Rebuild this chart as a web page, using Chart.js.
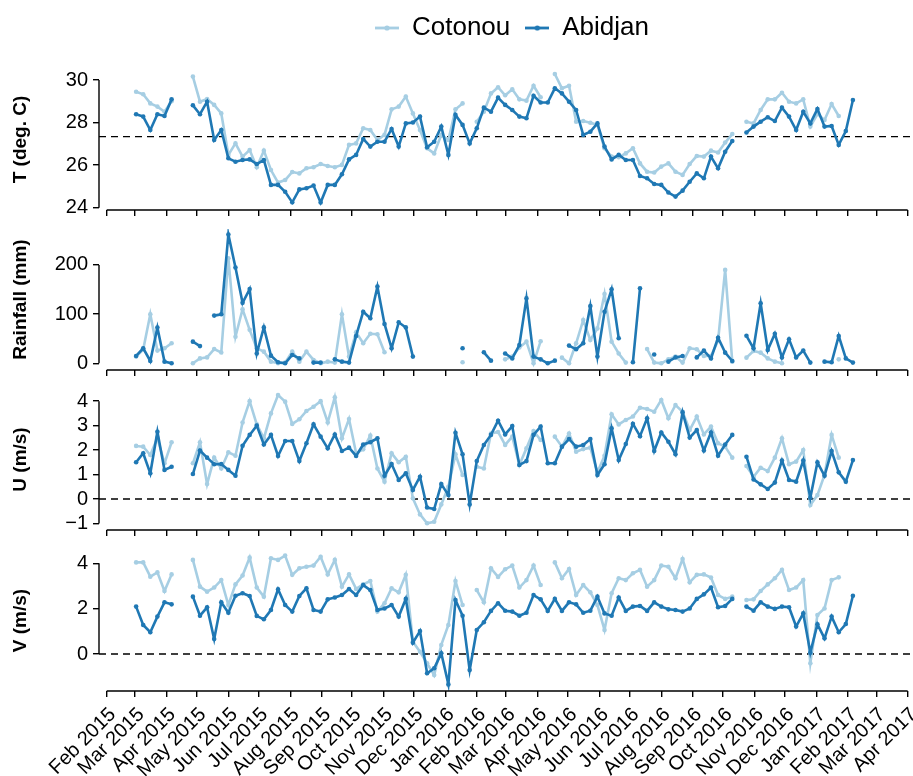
<!DOCTYPE html>
<html>
<head>
<meta charset="utf-8">
<script src="https://cdn.jsdelivr.net/npm/chart.js@4.4.1/dist/chart.umd.min.js"></script>
<style>
html, body { margin: 0; padding: 0; background: #fff; overflow: hidden; width: 913px; height: 776px; }
canvas { position: absolute; left: 0; }
</style>
</head>
<body>
<canvas id="legend" width="826" height="56" style="left:99px;top:0"></canvas>
<canvas id="p0" width="940" height="185" style="top:47px"></canvas>
<canvas id="p1" width="940" height="185" style="top:207px"></canvas>
<canvas id="p2" width="940" height="185" style="top:367px"></canvas>
<canvas id="p3" width="940" height="248" style="top:528px"></canvas>
<script>
// weekly series, first week starts 2015-03-02, 102 weeks
const firstWeek = '2015-03-02'
const nWeeks = 102

const tickLabels = ['Feb 2015','Mar 2015','Apr 2015','May 2015','Jun 2015','Jul 2015','Aug 2015','Sep 2015','Oct 2015','Nov 2015','Dec 2015',
  'Jan 2016','Feb 2016','Mar 2016','Apr 2016','May 2016','Jun 2016','Jul 2016','Aug 2016','Sep 2016','Oct 2016','Nov 2016','Dec 2016',
  'Jan 2017','Feb 2017','Mar 2017','Apr 2017']

const seriesNames = ['Cotonou', 'Abidjan']
const panelTitles = ['T (deg. C)', 'Rainfall (mm)', 'U (m/s)', 'V (m/s)']
const yTicks = [[24, 26, 28, 30], [0, 100, 200], [-1, 0, 1, 2, 3, 4], [0, 2, 4]]
const refLevels = [27.34, null, 0, 0]   // dashed lines

const tAbidjan = [28.39,28.28,27.65,28.39,28.31,29.09,null,null,28.81,28.39,28.98,27.18,27.65,26.32,26.16,26.24,26.27,26.05,26.24,25.07,
  25.07,24.75,24.25,24.86,24.91,25.04,24.24,25.07,25.07,25.57,26.27,26.48,27.23,26.87,27.10,27.10,27.70,26.87,27.96,28.00,
  28.28,26.84,27.10,27.81,26.48,28.36,27.89,27.02,27.73,28.70,28.51,29.17,28.83,28.59,28.28,28.20,29.26,28.94,28.94,29.61,
  29.37,28.98,28.59,27.42,27.57,27.96,26.87,26.27,26.48,26.24,26.24,25.49,25.38,25.11,25.07,24.71,24.52,24.80,25.22,25.61,
  25.38,26.40,25.85,26.63,27.13,null,27.53,27.81,28.04,28.25,28.07,28.70,28.28,27.65,28.51,27.96,28.64,27.81,27.84,26.95,
  27.60,29.06]
const tCotonou = [29.45,29.33,28.90,28.75,28.51,29.00,null,null,30.16,28.98,29.11,28.83,28.43,26.48,27.02,26.40,26.71,25.90,26.68,25.77,
  25.18,25.30,25.68,25.61,25.85,25.90,26.05,25.96,25.90,26.01,26.95,27.02,27.73,27.65,27.18,27.42,28.62,28.75,29.22,28.43,
  27.65,26.79,26.55,27.42,27.18,28.62,28.90,null,28.04,28.51,29.37,29.66,29.28,29.56,29.09,29.03,29.73,29.19,null,30.28,
  29.61,29.73,28.04,28.07,27.99,27.89,26.79,26.40,26.37,26.55,26.79,26.08,25.69,25.65,25.93,26.08,25.69,25.54,26.05,26.43,
  26.40,26.68,26.59,27.06,27.46,null,28.04,27.96,28.59,29.09,29.09,29.40,28.98,28.90,29.09,27.81,28.40,28.12,28.87,28.31,
  null,null]

const rainAbidjan = [15,30.5,4.7,72.6,3.4,0,null,null,44,35,null,97,99.7,262,195,123,151,20,73,15.6,
  2,0,17,10,null,1.4,1.4,null,8,3.4,1.4,55.6,105,91.6,156,80,30.5,83.4,73,13.6,
  null,null,null,null,null,null,30.5,null,null,22.4,5.4,null,20,10,37,132,13.6,8,0,5.4,
  null,36,28.5,40.7,116.7,13.6,105,150.6,51,null,2,152.6,null,18,null,3.4,12,15,null,12,
  25.8,10,52,21.7,4.7,null,56,30.5,122,27,60,12,49,12,25.8,1.4,null,3.4,2,55.6,
  10,1.4]
const rainCotonou = [13.6,28,99.7,25.8,30.5,40.7,null,null,0,10,12,29,22,213.6,54,110,68,30.5,23.7,3.4,
  0,1.4,23.7,3.4,23.7,6.8,0,3.4,1.4,99.7,13.6,63,40.7,60,59,22.4,null,null,null,null,
  null,null,null,null,null,null,2,null,null,null,null,null,8,13.6,32,44,0,45,null,null,
  11.5,0,40.7,88,47.5,71,141,44,20,1.4,null,null,29,1.4,0,8,13.6,1.4,30.5,28.5,
  15,15,46,190,3.4,null,11.5,25,21.7,10,3.4,0,null,null,null,null,null,null,null,8,
  null,null]

const uAbidjan = [1.50,1.87,1.05,2.75,1.19,1.32,null,null,1.02,1.98,1.69,1.42,1.43,1.19,0.95,2.18,2.62,3.00,2.23,2.62,
  1.76,2.37,2.37,1.55,2.28,3.05,2.55,2.07,2.64,1.96,2.10,1.76,2.23,2.32,2.48,0.95,1.43,0.78,1.05,0.37,
  0.91,-0.35,-0.41,0.61,0.16,2.71,1.83,-0.22,1.55,2.21,2.62,3.20,2.64,2.98,1.39,1.55,2.62,2.96,1.46,1.46,
  2.14,2.45,2.14,2.21,2.45,0.98,1.42,2.89,1.59,2.25,3.07,2.57,3.30,1.96,2.72,2.34,1.83,3.54,2.51,2.82,
  1.98,2.72,1.77,2.23,2.62,null,1.73,0.80,0.60,0.41,0.67,1.57,0.78,0.71,1.57,0.05,1.50,0.95,1.96,1.09,
  0.71,1.59]
const uCotonou = [2.17,2.14,1.80,2.50,1.46,2.32,null,null,1.46,2.32,0.61,1.69,1.25,1.91,1.77,3.13,4.00,3.05,2.48,3.50,
  4.25,3.98,3.07,3.26,3.60,3.77,4.00,3.13,4.16,2.48,3.27,1.87,2.03,2.59,1.25,0.71,1.87,1.50,1.73,0.03,
  -0.63,-0.99,-0.93,-0.22,0.50,1.83,0.98,null,1.32,1.25,2.68,2.74,2.21,2.55,1.39,2.07,2.78,2.41,null,2.55,
  2.14,2.68,1.93,2.04,2.10,1.09,1.77,3.46,3.05,3.23,3.37,3.73,3.68,3.57,4.05,3.30,3.84,3.57,2.82,3.37,
  2.64,2.96,2.28,2.14,1.69,null,1.35,0.91,1.28,1.14,1.69,2.48,1.42,1.53,2.00,-0.25,0.16,0.98,2.62,1.69,
  null,null]

const vAbidjan = [2.09,1.28,0.96,1.65,2.28,2.19,null,null,2.53,1.69,2.06,0.66,2.28,1.82,2.57,2.68,2.56,1.68,1.53,1.94,
  2.85,2.16,1.87,2.56,2.90,1.94,1.87,2.41,2.49,2.60,2.87,2.60,3.04,2.82,1.94,2.01,2.16,1.65,2.43,0.50,
  1.01,-0.85,-0.63,0.03,-1.34,2.38,1.69,-0.71,1.06,1.40,1.90,2.24,1.91,1.87,1.69,1.82,2.60,2.41,1.90,2.43,
  1.90,2.28,2.19,1.82,1.91,2.53,1.79,1.69,2.49,1.90,2.09,2.12,1.90,2.28,2.09,1.97,1.94,1.87,2.01,2.43,
  2.63,2.93,2.06,2.12,2.43,null,2.09,1.91,2.28,2.09,1.99,2.09,2.06,1.21,1.79,0.06,1.31,0.69,1.65,0.96,
  1.32,2.57]
const vCotonou = [4.04,4.04,3.41,3.60,2.78,3.51,null,null,4.15,2.97,2.75,2.93,3.26,2.16,3.07,3.46,4.25,2.93,2.53,4.22,
  4.15,4.34,3.49,3.78,3.85,3.90,4.29,3.51,4.15,2.97,3.51,2.87,3.07,3.22,1.87,2.24,2.90,2.72,3.49,0.54,
  0.10,-0.41,-0.93,0.40,1.28,3.22,2.16,null,2.82,2.28,3.78,3.40,3.74,3.90,2.93,3.26,3.90,3.04,null,4.04,
  3.34,3.75,2.60,3.04,2.72,2.16,1.06,2.68,3.34,3.26,3.56,3.71,2.97,3.26,3.90,3.85,3.34,4.19,3.16,3.49,
  3.51,3.37,2.60,2.43,2.53,null,2.38,2.41,2.78,3.07,3.34,3.71,2.82,2.93,3.26,-0.41,1.72,2.01,3.26,3.38,
  null,null]

const colCotonou = '#a6cee3'
const colAbidjan = '#1f78b4'
Chart.defaults.font.family = '"Liberation Sans", Arial, Helvetica, sans-serif'
Chart.defaults.color = '#000'

// x axis in days since 1 Feb 2015
const MONTHS = ['Jan','Feb','Mar','Apr','May','Jun','Jul','Aug','Sep','Oct','Nov','Dec']
const origin = Date.UTC(2015, 1, 1)
function dayOf(y, m, d) { return (Date.UTC(y, m, d) - origin) / 864e5 }
const tickDays = tickLabels.map(s => { const p = s.split(' '); return dayOf(+p[1], MONTHS.indexOf(p[0]), 1) })
const fw = firstWeek.split('-').map(Number)
const day0 = dayOf(fw[0], fw[1] - 1, fw[2])
const weekDays = []
for (let i = 0; i < nWeeks; i++) weekDays.push(day0 + 7 * i)

const xMin = -7.6, xMax = 807.1

function pts(arr) { return arr.map((v, i) => ({x: weekDays[i], y: v})) }

// R style axis lines: from first to last tick only
const axisLines = {
  id: 'axisLines',
  afterDraw(chart) {
    const {ctx, chartArea, scales} = chart
    const x = scales.x, y = scales.y
    ctx.save()
    ctx.strokeStyle = '#000'
    ctx.lineWidth = 1.4
    ctx.beginPath()
    ctx.moveTo(chartArea.left, y.getPixelForValue(y.ticks[0].value))
    ctx.lineTo(chartArea.left, y.getPixelForValue(y.ticks[y.ticks.length - 1].value))
    ctx.moveTo(x.getPixelForValue(x.ticks[0].value), chartArea.bottom)
    ctx.lineTo(x.getPixelForValue(x.ticks[x.ticks.length - 1].value), chartArea.bottom)
    ctx.stroke()
    ctx.restore()
  }
}

const panelData = [[tAbidjan, tCotonou], [rainAbidjan, rainCotonou], [uAbidjan, uCotonou], [vAbidjan, vCotonou]]
// y limits / layout of each panel
const panelLayout = [
  {id: 'p0', min: 23.891, max: 30.517, top: 22, xh: 22},
  {id: 'p1', min: -13.63, max: 273.2, top: 22, xh: 22},
  {id: 'p2', min: -1.267, max: 4.497, top: 22, xh: 22},
  {id: 'p3', min: -1.632, max: 4.587, top: 22, xh: 85},
]

panelLayout.forEach((p, k) => {
  const showLabels = k === 3
  const lineSet = (label, data, color) => ({
    label, data: pts(data), borderColor: color, backgroundColor: color,
    borderWidth: 2.6, pointRadius: 2.3, pointBorderWidth: 0, pointBackgroundColor: color,
    spanGaps: false, tension: 0
  })
  const datasets = [
    lineSet('Abidjan', panelData[k][0], colAbidjan),
    lineSet('Cotonou', panelData[k][1], colCotonou),
  ]
  if (refLevels[k] !== null) {
    datasets.push({
      label: 'ref', data: [{x: xMin, y: refLevels[k]}, {x: xMax, y: refLevels[k]}],
      borderColor: '#000', borderWidth: 1.4, borderDash: [7, 5], pointRadius: 0
    })
  }
  new Chart(document.getElementById(p.id), {
    type: 'line',
    data: {datasets},
    options: {
      responsive: false,
      animation: false,
      events: [],
      layout: {padding: {top: p.top, left: 0, right: 15, bottom: 0}},
      plugins: {legend: {display: false}, tooltip: {enabled: false}},
      scales: {
        x: {
          type: 'linear', min: xMin, max: xMax,
          afterBuildTicks: s => { s.ticks = tickDays.map(v => ({value: v})) },
          afterFit: s => { s.height = p.xh },
          grid: {drawOnChartArea: false, drawTicks: true, tickLength: 6, color: '#000', lineWidth: 1.4},
          border: {display: false},
          ticks: {
            display: showLabels, autoSkip: false, minRotation: 45, maxRotation: 45, padding: 6, labelOffset: 6,
            font: {size: 20}, color: '#000',
            callback: (v, i) => tickLabels[i]
          }
        },
        y: {
          min: p.min, max: p.max,
          afterBuildTicks: s => { s.ticks = yTicks[k].map(v => ({value: v})) },
          afterFit: s => { s.width = 99 },
          grid: {drawOnChartArea: false, drawTicks: true, tickLength: 6, color: '#000', lineWidth: 1.4},
          border: {display: false},
          ticks: {
            autoSkip: false, padding: 5, font: {size: 20}, color: '#000',
            callback: v => v < 0 ? '\u2212' + (-v) : String(v)
          },
          title: {display: true, text: panelTitles[k], color: '#000', font: {size: 19, weight: 'bold'}, padding: {top: 9, bottom: 0}}
        }
      }
    },
    plugins: [axisLines]
  })
})

// legend: line sample with a dot
function legendIcon(color) {
  const c = document.createElement('canvas')
  c.width = 24; c.height = 8
  const g = c.getContext('2d')
  g.strokeStyle = color; g.lineWidth = 2.8
  g.beginPath(); g.moveTo(0, 4); g.lineTo(24, 4); g.stroke()
  g.fillStyle = color
  g.beginPath(); g.arc(12, 4, 2.6, 0, Math.PI * 2); g.fill()
  return c
}
const legendColors = [colCotonou, colAbidjan]
new Chart(document.getElementById('legend'), {
  type: 'line',
  data: {datasets: seriesNames.map((n, i) => ({label: n, data: [], borderColor: legendColors[i]}))},
  options: {
    responsive: false,
    animation: false,
    events: [],
    scales: {x: {display: false}, y: {display: false}},
    plugins: {
      tooltip: {enabled: false},
      legend: {
        position: 'top',
        maxHeight: 56,
        labels: {
          usePointStyle: true, pointStyleWidth: 24, padding: 15, color: '#000', font: {size: 26},
          generateLabels: chart => chart.data.datasets.map((d, i) => ({
            text: d.label, fillStyle: d.borderColor, strokeStyle: d.borderColor, lineWidth: 0,
            pointStyle: legendIcon(d.borderColor), datasetIndex: i, hidden: false
          }))
        }
      }
    }
  }
})
</script>
</body>
</html>
